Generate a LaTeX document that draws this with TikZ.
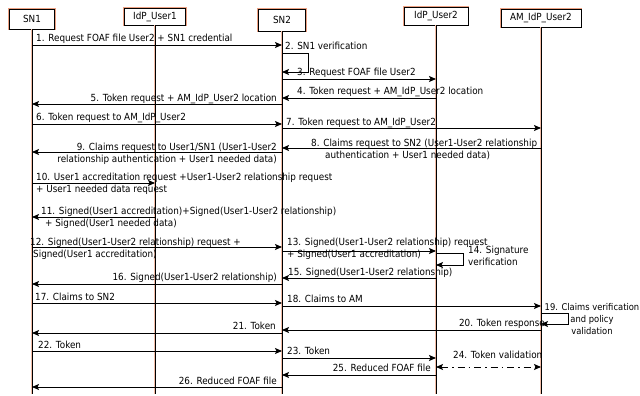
\documentclass[tikz,border=0pt]{standalone}
\usepackage{fontspec}
\setmainfont{DejaVu Sans}[FakeStretch=0.9]
\usetikzlibrary{arrows.meta}
\definecolor{halo}{RGB}{236,160,130}
\begin{document}
\begin{tikzpicture}[x=1pt,y=-1pt,
  font=\fontsize{9.8}{12}\selectfont,
  actor/.style={draw=black, line width=0.9pt, fill=white, inner sep=0pt,
    preaction={draw=halo, line width=2.4pt}},
  life/.style={line width=0.9pt, black, preaction={draw=halo!70, line width=1.8pt}},
  msg/.style={line width=0.9pt, black, -{Stealth[length=7pt,width=6pt,inset=1.5pt]}},
  dmsg/.style={line width=0.9pt, black, dash pattern=on 7pt off 4pt on 1.5pt off 4pt,
    {Stealth[length=7pt,width=6pt,inset=1.5pt]}-{Stealth[length=7pt,width=6pt,inset=1.5pt]}},
  lbl/.style={inner sep=0pt, align=left}]
\useasboundingbox (0,0) rectangle (640,396);
\fill[white] (0,0) rectangle (640,396);
% actors
\node[actor, minimum width=45pt, minimum height=20pt] (sn1) at (32,19) {SN1};
\node[actor, minimum width=61pt, minimum height=17pt] (idp1) at (155,16.5) {IdP\_User1};
\node[actor, minimum width=47pt, minimum height=22pt] (sn2) at (282,20) {SN2};
\node[actor, minimum width=64pt, minimum height=18pt] (idp2) at (436,16) {IdP\_User2};
\node[actor, minimum width=80pt, minimum height=18pt] (am) at (541,18) {AM\_IdP\_User2};
% lifelines
\draw[life] (sn1.south) -- (sn1|-0,394);
\draw[life] (idp1.south) -- (idp1|-0,394);
\draw[life] (sn2.south) -- (sn2|-0,394);
\draw[life] (idp2.south) -- (idp2|-0,394);
\draw[life] (am.south) -- (am|-0,394);
% messages
\node[lbl,anchor=base west] (t1) at (36,42) {1. Request FOAF file User2 + SN1 credential};
\draw[msg] (sn1|-0,45) -- (sn2|-0,45);
\node[lbl,anchor=base west] (t2) at (285,50) {2. SN1 verification};
\draw[msg] (sn2|-0,53) -- ++(26,0) -- ++(0,19) -- (sn2|-0,72);
\node[lbl,anchor=base west] (t3) at (297,76) {3. Request FOAF file User2};
\draw[msg] (sn2|-0,79) -- (idp2|-0,79);
\node[lbl,anchor=base west] (t4) at (297,95) {4. Token request + AM\_IdP\_User2 location};
\draw[msg] (idp2|-0,98) -- (sn2|-0,98);
\node[lbl,anchor=base east] (t5) at (277,101) {5. Token request + AM\_IdP\_User2 location};
\draw[msg] (sn2|-0,104) -- (sn1|-0,104);
\node[lbl,anchor=base west] (t6) at (36,121) {6. Token request to AM\_IdP\_User2};
\draw[msg] (sn1|-0,124) -- (sn2|-0,124);
\node[lbl,anchor=base west] (t7) at (286,125) {7. Token request to AM\_IdP\_User2};
\draw[msg] (sn2|-0,128) -- (am|-0,128);
\node[lbl,anchor=base west] (t8) at (311,158) {8. Claims request to SN2 (User1-User2 relationship\\\hspace*{14pt}authentication + User1 needed data)};
\draw[msg] (am|-0,148) -- (sn2|-0,148);
\node[lbl,anchor=base east,align=right] (t9) at (277,162) {9. Claims request to User1/SN1 (User1-User2\\relationship authentication + User1 needed data)};
\draw[msg] (sn2|-0,152) -- (sn1|-0,152);
\node[lbl,anchor=base west] (t10) at (36,192) {10. User1 accreditation request +User1-User2 relationship request\\+ User1 needed data request};
\draw[msg] (sn1|-0,183) -- (idp1|-0,183);
\node[lbl,anchor=base west] (t11) at (41,226) {11. Signed(User1 accreditation)+Signed(User1-User2 relationship)\\\hspace*{4pt}+ Signed(User1 needed data)};
\draw[msg] (idp1|-0,217) -- (sn1|-0,217);
\node[lbl,anchor=base west] (t12) at (30,257) {12. Signed(User1-User2 relationship) request +\\\hspace*{3pt}Signed(User1 accreditation)};
\draw[msg] (sn1|-0,247) -- (sn2|-0,247);
\node[lbl,anchor=base west] (t13) at (287,257) {13. Signed(User1-User2 relationship) request\\+ Signed(User1 accreditation)};
\draw[msg] (sn2|-0,251) -- (idp2|-0,251);
\node[lbl,anchor=base west] (t14) at (468,265) {14. Signature\\verification};
\draw[msg] (idp2|-0,253) -- ++(27,0) -- ++(0,12) -- (idp2|-0,265);
\node[lbl,anchor=base west] (t15) at (288,275) {15. Signed(User1-User2 relationship)};
\draw[msg] (idp2|-0,278) -- (sn2|-0,278);
\node[lbl,anchor=base east] (t16) at (277,280) {16. Signed(User1-User2 relationship)};
\draw[msg] (sn2|-0,284) -- (sn1|-0,284);
\node[lbl,anchor=base west] (t17) at (35,300) {17. Claims to SN2};
\draw[msg] (sn1|-0,303) -- (sn2|-0,303);
\node[lbl,anchor=base west] (t18) at (287,302) {18. Claims to AM};
\draw[msg] (sn2|-0,306) -- (am|-0,306);
\node[lbl,anchor=base,align=center,font=\fontsize{9.3}{12}\selectfont] (t19) at (592,334) {19. Claims verification\\and policy\\validation};
\node[lbl,anchor=base east] (t20) at (545,326) {20. Token response};
\draw[msg] (am|-0,313) -- ++(27,0) -- ++(0,11) -- (am|-0,324);
\draw[msg] (am|-0,330) -- (sn2|-0,330);
\node[lbl,anchor=base east] (t21) at (276,329) {21. Token};
\draw[msg] (sn2|-0,333) -- (sn1|-0,333);
\node[lbl,anchor=base west] (t22) at (38,348) {22. Token};
\draw[msg] (sn1|-0,351) -- (sn2|-0,351);
\node[lbl,anchor=base west] (t23) at (287,354) {23. Token};
\draw[msg] (sn2|-0,358) -- (idp2|-0,358);
\node[lbl,anchor=base west] (t24) at (453,358) {24. Token validation};
\draw[dmsg] (idp2|-0,367) -- (am|-0,367);
\node[lbl,anchor=base east] (t25) at (431,371) {25. Reduced FOAF file};
\draw[msg] (idp2|-0,375) -- (sn2|-0,375);
\node[lbl,anchor=base east] (t26) at (277,384) {26. Reduced FOAF file};
\draw[msg] (sn2|-0,387) -- (sn1|-0,387);
\end{tikzpicture}
\end{document}
